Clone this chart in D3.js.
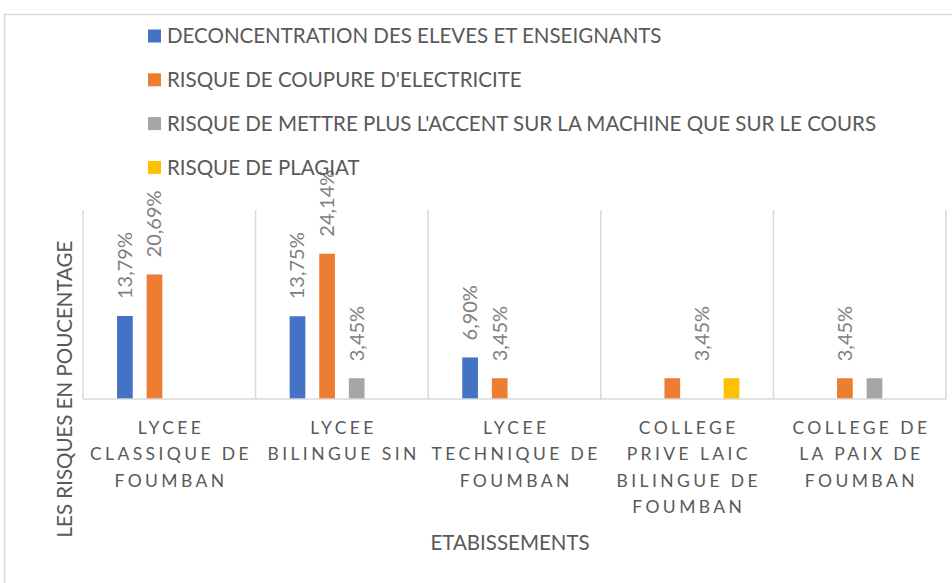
<!DOCTYPE html>
<html>
<head>
<meta charset="utf-8">
<script src="https://cdn.jsdelivr.net/npm/d3@7"></script>
<style>
  body { margin: 0; background: #fff; }
  text { font-family: Lato, "Open Sans", sans-serif; }
</style>
</head>
<body>
<svg width="952" height="583"></svg>
<script>
// data
const categories = [
  'LYCEE CLASSIQUE DE FOUMBAN',
  'LYCEE BILINGUE SIN',
  'LYCEE TECHNIQUE DE FOUMBAN',
  'COLLEGE PRIVE LAIC BILINGUE DE FOUMBAN',
  'COLLEGE DE LA PAIX DE FOUMBAN'
];
const categoryLines = [
  ['LYCEE', 'CLASSIQUE DE', 'FOUMBAN'],
  ['LYCEE', 'BILINGUE SIN'],
  ['LYCEE', 'TECHNIQUE DE', 'FOUMBAN'],
  ['COLLEGE', 'PRIVE LAIC', 'BILINGUE DE', 'FOUMBAN'],
  ['COLLEGE DE', 'LA PAIX DE', 'FOUMBAN']
];
const seriesNames = [
  'DECONCENTRATION DES ELEVES ET ENSEIGNANTS',
  "RISQUE DE COUPURE D'ELECTRICITE",
  "RISQUE DE METTRE PLUS L'ACCENT SUR LA MACHINE QUE SUR LE COURS",
  'RISQUE DE PLAGIAT'
];
const seriesColors = ['#4472c4', '#ed7d31', '#a5a5a5', '#ffc000'];

const deconcentration = [13.79, 13.75, 6.90, 0, 0];
const coupure = [20.69, 24.14, 3.45, 3.45, 3.45];
const machine = [0, 3.45, 0, 0, 3.45];
const plagiat = [0, 0, 0, 3.45, 0];
const seriesValues = [deconcentration, coupure, machine, plagiat];

// data labels as shown (null = no label)
const deconcentrationLabels = [13.79, 13.75, 6.90, null, null];
const coupureLabels = [20.69, 24.14, 3.45, null, 3.45];
const machineLabels = [null, 3.45, null, 3.45, null];
const plagiatLabels = [null, null, null, null, null];
const seriesLabels = [deconcentrationLabels, coupureLabels, machineLabels, plagiatLabels];

const yMax = 31.4;

const svg = d3.select('svg');
const width = +svg.attr('width');
const height = +svg.attr('height');

const plot = { left: 83, right: 946, top: 210, bottom: 399 };

// chart border
svg.append('path')
    .attr('d', `M4.5,${height} V14.5 H${width}`)
    .attr('fill', 'none')
    .attr('stroke', '#d9d9d9')
    .attr('stroke-width', 1.5);

const x0 = d3.scaleBand()
    .domain(categories)
    .range([plot.left, plot.right])
    .padding(0);

const x1 = d3.scaleBand()
    .domain(d3.range(seriesNames.length))
    .range([0, x0.bandwidth()])
    .paddingInner(0.47)
    .paddingOuter(1.15);

const y = d3.scaleLinear()
    .domain([0, yMax])
    .range([plot.bottom, plot.top]);

// vertical gridlines between categories
const gridX = categories.map(c => x0(c)).concat([plot.right]);
svg.append('g')
  .selectAll('line')
  .data(gridX)
  .join('line')
    .attr('x1', d => d)
    .attr('x2', d => d)
    .attr('y1', plot.top)
    .attr('y2', plot.bottom)
    .attr('stroke', '#d9d9d9')
    .attr('stroke-width', 1.5);

// bars
const rows = [];
seriesValues.forEach((vals, s) => {
  vals.forEach((v, i) => rows.push({ s, i, v, label: seriesLabels[s][i] }));
});

svg.append('g')
  .selectAll('rect')
  .data(rows.filter(d => d.v > 0))
  .join('rect')
    .attr('x', d => x0(categories[d.i]) + x1(d.s))
    .attr('y', d => y(d.v))
    .attr('width', x1.bandwidth())
    .attr('height', d => y(0) - y(d.v))
    .attr('fill', d => seriesColors[d.s]);

// category axis line
svg.append('line')
    .attr('x1', plot.left)
    .attr('x2', plot.right)
    .attr('y1', plot.bottom)
    .attr('y2', plot.bottom)
    .attr('stroke', '#d9d9d9')
    .attr('stroke-width', 1.5);

// data labels (rotated)
const fmt = v => d3.format('.2f')(v).replace('.', ',') + '%';
svg.append('g')
  .selectAll('text')
  .data(rows.filter(d => d.label != null))
  .join('text')
    .attr('transform', d => {
      const cx = x0(categories[d.i]) + x1(d.s) + x1.bandwidth() / 2;
      const cy = y(d.label) - 17;
      return `translate(${cx},${cy}) rotate(-90)`;
    })
    .attr('dy', '0.35em')
    .attr('font-size', 20)
    .attr('fill', '#808080')
    .text(d => fmt(d.label));

// category tick labels
const tickG = svg.append('g');
categories.forEach((c, i) => {
  const cx = x0(c) + x0.bandwidth() / 2 + 1.7;
  const t = tickG.append('text')
      .attr('x', cx)
      .attr('y', 428)
      .attr('text-anchor', 'middle')
      .attr('font-size', 17.5)
      .attr('letter-spacing', 3.4)
      .attr('fill', '#595959');
  categoryLines[i].forEach((line, k) => {
    t.append('tspan')
        .attr('x', cx)
        .attr('dy', k === 0 ? '0.35em' : 26.3)
        .text(line);
  });
});

// axis titles
svg.append('text')
    .attr('x', 510)
    .attr('y', 543)
    .attr('dy', '0.35em')
    .attr('text-anchor', 'middle')
    .attr('font-size', 20.5)
    .attr('fill', '#595959')
    .text('ETABISSEMENTS');

svg.append('text')
    .attr('transform', 'translate(65,389) rotate(-90)')
    .attr('dy', '0.35em')
    .attr('text-anchor', 'middle')
    .attr('font-size', 20.5)
    .attr('fill', '#595959')
    .text('LES RISQUES EN POUCENTAGE');

// legend
const legend = svg.append('g')
  .selectAll('g')
  .data(seriesNames)
  .join('g')
    .attr('transform', (d, i) => `translate(148,${36 + i * 43.8})`);

legend.append('rect')
    .attr('x', 0)
    .attr('y', -6.5)
    .attr('width', 13)
    .attr('height', 13)
    .attr('fill', (d, i) => seriesColors[i]);

legend.append('text')
    .attr('x', 19)
    .attr('dy', '0.35em')
    .attr('font-size', 20.5)
    .attr('fill', '#595959')
    .text(d => d);
</script>
</body>
</html>
